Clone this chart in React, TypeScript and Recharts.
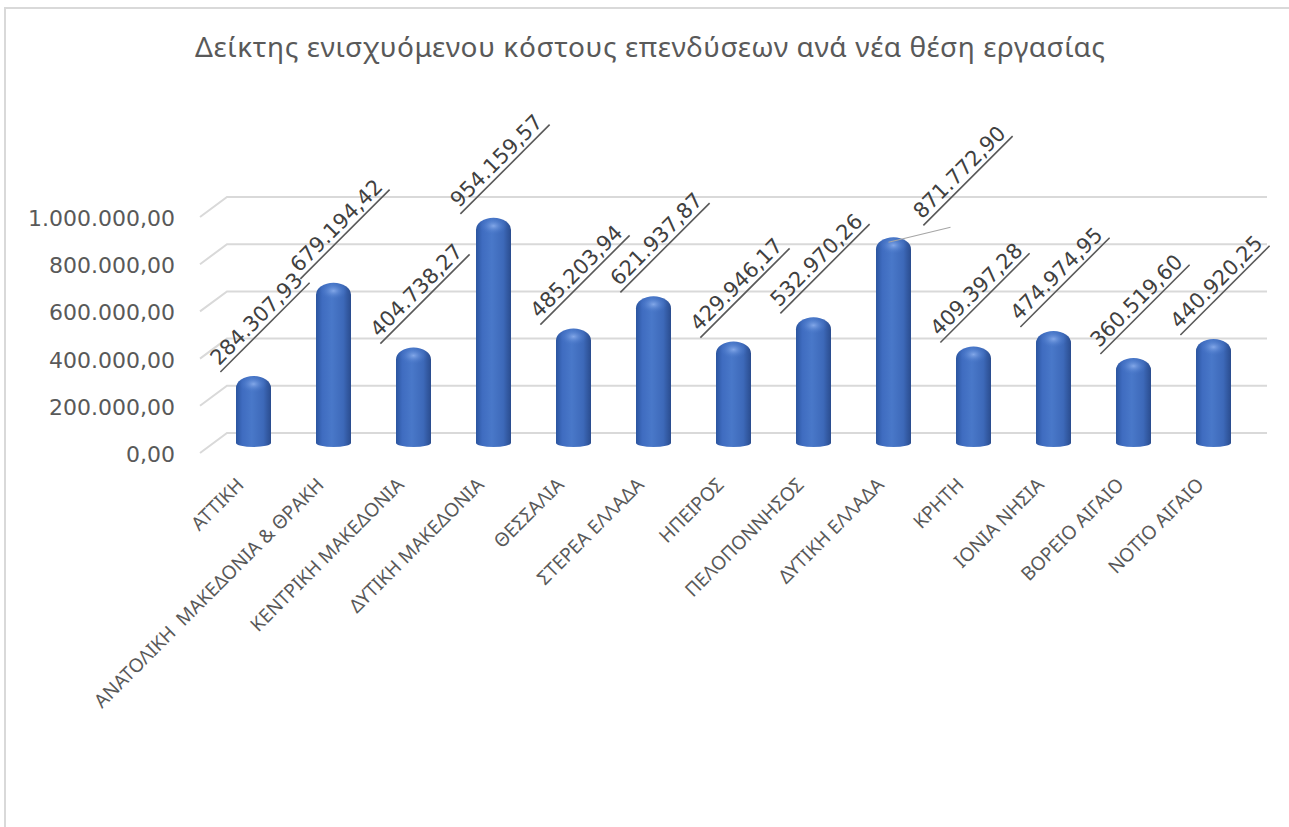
import { Bar, BarChart, CartesianGrid, LabelList, XAxis, YAxis } from "recharts";

const regions = [
  "ΑΤΤΙΚΗ",
  "ΑΝΑΤΟΛΙΚΗ  ΜΑΚΕΔΟΝΙΑ & ΘΡΑΚΗ",
  "ΚΕΝΤΡΙΚΗ ΜΑΚΕΔΟΝΙΑ",
  "ΔΥΤΙΚΗ ΜΑΚΕΔΟΝΙΑ",
  "ΘΕΣΣΑΛΙΑ",
  "ΣΤΕΡΕΑ ΕΛΛΑΔΑ",
  "ΗΠΕΙΡΟΣ",
  "ΠΕΛΟΠΟΝΝΗΣΟΣ",
  "ΔΥΤΙΚΗ ΕΛΛΑΔΑ",
  "ΚΡΗΤΗ",
  "ΙΟΝΙΑ ΝΗΣΙΑ",
  "ΒΟΡΕΙΟ ΑΙΓΑΙΟ",
  "ΝΟΤΙΟ ΑΙΓΑΙΟ",
];
const costPerJob = [
  284307.93, 679194.42, 404738.27, 954159.57, 485203.94, 621937.87, 429946.17, 532970.26, 871772.9, 409397.28,
  474974.95, 360519.6, 440920.25,
];
const yTicks = [0, 200000, 400000, 600000, 800000, 1000000];

const title = "Δείκτης ενισχυόμενου κόστους επενδύσεων ανά νέα θέση εργασίας";

const data = regions.map((region, i) => ({ region, value: costPerJob[i] }));

// the ΔΥΤΙΚΗ ΕΛΛΑΔΑ label was dragged aside in the original, with a leader line
const movedLabelIndex = 8;

const numberFont = "'DejaVu Sans', sans-serif";
const textFont = "'Noto Sans', sans-serif";
const labelSize = 21;

function formatEl(v: number) {
  const [int, dec] = v.toFixed(2).split(".");
  return int.replace(/\B(?=(\d{3})+(?!\d))/g, ".") + "," + dec;
}

// rough DejaVu Sans advance widths, enough to size the underline
function textWidth(s: string, size: number) {
  let em = 0;
  for (const ch of s) em += ch === "." || ch === "," ? 0.318 : 0.636;
  return em * size;
}

function GridLine(props: any) {
  const { x1, x2, y1 } = props;
  // 3D look: short diagonal on the side wall, then the back wall line
  return (
    <path
      d={`M${x1 - 13},${y1 + 10} L${x1 + 14},${y1 - 10} L${x2 + 14},${y1 - 10}`}
      fill="none"
      stroke="#d9d9d9"
      strokeWidth={2}
    />
  );
}

function YTick(props: any) {
  const { y, payload } = props;
  return (
    <text x={175} y={y + 11} dy="0.36em" textAnchor="end" fill="#595959" fontSize={22} fontFamily={numberFont}>
      {formatEl(payload.value)}
    </text>
  );
}

function XTick(props: any) {
  const { x, payload } = props;
  const ax = x - 8;
  const ay = 486;
  return (
    <text
      x={ax}
      y={ay}
      transform={`rotate(-45 ${ax} ${ay})`}
      textAnchor="end"
      fill="#595959"
      fontSize={19}
      fontFamily={textFont}
      style={{ whiteSpace: "pre" }}
    >
      {payload.value}
    </text>
  );
}

function Cylinder(props: any) {
  const { x, y, width, height } = props;
  if (!height) return null;
  const rx = width / 2;
  const capRy = 12;
  const bottomRy = 4;
  const bottom = y + height;
  const body = `M${x},${y + capRy} A${rx},${capRy} 0 0 1 ${x + width},${y + capRy} L${x + width},${bottom} A${rx},${bottomRy} 0 0 1 ${x},${bottom} Z`;
  return (
    <g>
      <path d={body} fill="url(#cylBody)" />
      <ellipse cx={x + rx} cy={y + capRy * 0.75} rx={rx * 0.8} ry={capRy * 0.75} fill="url(#cylCap)" />
    </g>
  );
}

function ValueLabel(props: any) {
  const { x, y, width, value, index } = props;
  const cx = x + width / 2 + 3;
  const moved = index === movedLabelIndex;
  const lx = moved ? cx + 63 : cx;
  const ly = moved ? y - 65 : y - 57;
  const text = formatEl(value);
  const half = textWidth(text, labelSize) / 2 + 3;
  return (
    <g>
      {moved && <line x1={cx - 8} y1={y + 5} x2={cx + 54} y2={y - 10} stroke="#a6a6a6" strokeWidth={1.2} />}
      <g transform={`rotate(-45 ${lx} ${ly})`}>
        <text x={lx} y={ly + 7} textAnchor="middle" fill="#404040" fontSize={labelSize} fontFamily={numberFont}>
          {text}
        </text>
        <line x1={lx - half} y1={ly + 12} x2={lx + half} y2={ly + 12} stroke="#595959" strokeWidth={1.6} />
      </g>
    </g>
  );
}

export default function App() {
  return (
    <div style={{ position: "absolute", left: 0, top: 0, width: 1289, height: 827, overflow: "hidden", background: "#fff" }}>
      <div
        style={{
          position: "absolute",
          left: 4,
          top: 7,
          width: 1400,
          height: 900,
          border: "2px solid #d9d9d9",
          boxSizing: "border-box",
        }}
      />
      <BarChart
        width={1289}
        height={827}
        data={data}
        margin={{ top: 207, right: 36, bottom: 0, left: 0 }}
        style={{ position: "absolute", left: 0, top: 0 }}
      >
        <defs>
          <linearGradient id="cylBody" x1="0" y1="0" x2="1" y2="0">
            <stop offset="0%" stopColor="#2b559f" />
            <stop offset="18%" stopColor="#3f6cc0" />
            <stop offset="45%" stopColor="#4978c9" />
            <stop offset="78%" stopColor="#3d69b9" />
            <stop offset="100%" stopColor="#2a4c8e" />
          </linearGradient>
          <radialGradient id="cylCap" cx="0.5" cy="0.45" r="0.5">
            <stop offset="0%" stopColor="#86aaea" stopOpacity={0.95} />
            <stop offset="60%" stopColor="#5b87d4" stopOpacity={0.4} />
            <stop offset="100%" stopColor="#4472c4" stopOpacity={0} />
          </radialGradient>
        </defs>
        <text x={650} y={57} textAnchor="middle" fill="#595959" fontSize={28} fontFamily={textFont} textLength={910} lengthAdjust="spacing">
          {title}
        </text>
        <CartesianGrid vertical={false} horizontal={(p: any) => <GridLine {...p} />} />
        <XAxis dataKey="region" height={384} interval={0} axisLine={false} tickLine={false} tick={<XTick />} />
        <YAxis
          width={213}
          domain={[0, 1000000]}
          ticks={yTicks}
          axisLine={false}
          tickLine={false}
          tick={<YTick />}
        />
        <Bar dataKey="value" barSize={35} isAnimationActive={false} shape={(p: any) => <Cylinder {...p} />}>
          <LabelList dataKey="value" content={(p: any) => <ValueLabel {...p} />} />
        </Bar>
      </BarChart>
    </div>
  );
}
